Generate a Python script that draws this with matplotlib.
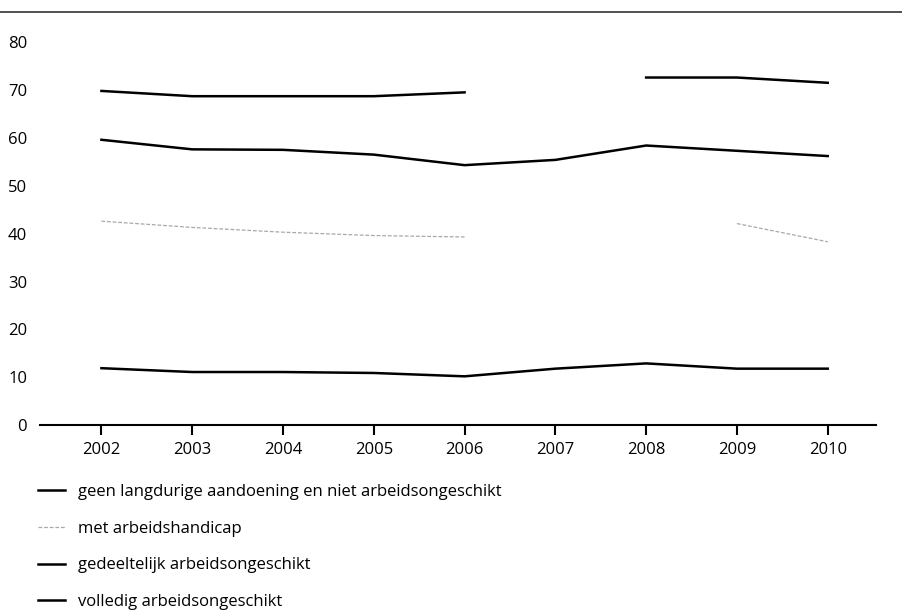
import matplotlib.pyplot as plt
from matplotlib.lines import Line2D
import numpy as np

plt.rcParams['font.family'] = ['Open Sans', 'DejaVu Sans']

# Data
jaren = [2002, 2003, 2004, 2005, 2006, 2007, 2008, 2009, 2010]
geen_aandoening = [69.8, 68.7, 68.7, 68.7, 69.5, np.nan, 72.6, 72.6, 71.5]
met_handicap = [42.6, 41.3, 40.3, 39.6, 39.3, np.nan, np.nan, 42.1, 38.3]
gedeeltelijk = [59.6, 57.6, 57.5, 56.5, 54.3, 55.4, 58.4, 57.3, 56.2]
volledig = [11.9, 11.1, 11.1, 10.9, 10.2, 11.8, 12.9, 11.8, 11.8]

labels = ['geen langdurige aandoening en niet arbeidsongeschikt',
          'met arbeidshandicap',
          'gedeeltelijk arbeidsongeschikt',
          'volledig arbeidsongeschikt']

fig = plt.figure(figsize=(9.02, 6.1), dpi=100)
ax = fig.add_axes([0.044, 0.303, 0.927, 0.628])

ax.plot(jaren, geen_aandoening, color='black', lw=1.8)
ax.plot(jaren, met_handicap, color='#a8a8a8', lw=0.9, linestyle=(0, (3, 1.5)))
ax.plot(jaren, gedeeltelijk, color='black', lw=1.8)
ax.plot(jaren, volledig, color='black', lw=1.8)

ax.set_xlim(2001.32, 2010.53)
ax.set_ylim(0, 80)
ax.set_xticks(jaren)
ax.set_yticks(range(0, 81, 10))

for s in ['top', 'right', 'left']:
    ax.spines[s].set_visible(False)
ax.spines['bottom'].set_linewidth(1.5)
ax.tick_params(axis='x', direction='out', length=7, width=1.5, labelsize=12, pad=5)
ax.tick_params(axis='y', length=0, labelsize=12, pad=9)

# horizontal rule on top of the figure
fig.add_artist(Line2D([0, 1], [0.980, 0.980], color='#333333', lw=1.2))

handles = [Line2D([], [], color='black', lw=1.8),
           Line2D([], [], color='#a8a8a8', lw=0.9, linestyle=(0, (3, 1.5))),
           Line2D([], [], color='black', lw=1.8),
           Line2D([], [], color='black', lw=1.8)]
fig.legend(handles, labels, loc='upper left', bbox_to_anchor=(0.035, 0.218),
           frameon=False, fontsize=12, handlelength=1.6, handletextpad=0.8,
           labelspacing=1.25, borderaxespad=0)

fig.savefig('out.png', dpi=100)
